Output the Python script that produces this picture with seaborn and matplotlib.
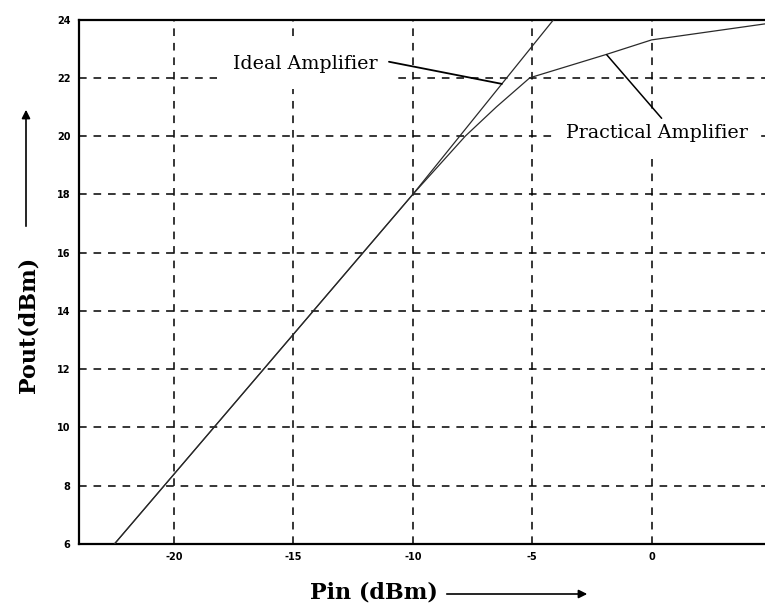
import matplotlib
matplotlib.use("Agg")
import matplotlib.pyplot as plt
import seaborn as sns
import pandas as pd

# ---- data ----
ideal_pin = [-22.5, -10.0, -4.1]
ideal_pout = [6.0, 18.0, 24.0]
practical_pin = [-22.5, -10.0, -8.9, -7.8, -6.5, -5.1, -1.9, 0.0, 4.75]
practical_pout = [6.0, 18.0, 19.0, 20.0, 21.0, 22.0, 22.8, 23.3, 23.85]
x_ticks = [-20, -15, -10, -5, 0]
y_ticks = [6, 8, 10, 12, 14, 16, 18, 20, 22, 24]
x_label = "Pin (dBm)"
y_label = "Pout(dBm)"
ideal_text = "Ideal Amplifier"
ideal_text_xy = (-14.49, 22.47)
ideal_ptr = [(-11.0, 22.55), (-6.27, 21.79)]
practical_text = "Practical Amplifier"
practical_text_xy = (0.22, 20.12)
practical_ptr = [(-1.88, 22.79), (0.42, 20.61)]

sns.set_style("white")
plt.rcParams["font.family"] = ["DejaVu Sans"]
plt.rcParams["text.color"] = "black"
plt.rcParams["xtick.color"] = "black"
plt.rcParams["ytick.color"] = "black"

W, H = 765, 606
fig = plt.figure(figsize=(W / 100, H / 100), dpi=100)
ax = fig.add_axes([78.6 / W, (H - 544) / H, (W - 78.6) / W, (544 - 19.5) / H])

df_ideal = pd.DataFrame({"Pin": ideal_pin, "Pout": ideal_pout})
df_prac = pd.DataFrame({"Pin": practical_pin, "Pout": practical_pout})
sns.lineplot(data=df_ideal, x="Pin", y="Pout", ax=ax, color="#2a2a2a", lw=0.9,
             sort=False, estimator=None, zorder=3)
sns.lineplot(data=df_prac, x="Pin", y="Pout", ax=ax, color="#2a2a2a", lw=0.9,
             sort=False, estimator=None, zorder=3)

ax.set_xlim(-24, 4.75)
ax.set_ylim(6, 24)
ax.set_xticks(x_ticks)
ax.set_yticks(y_ticks)
ax.set_xticklabels([str(t) for t in x_ticks])
ax.set_yticklabels([str(t) for t in y_ticks])
ax.tick_params(axis="both", length=0, labelsize=7, pad=6, labelcolor="black")
for lab in ax.get_xticklabels() + ax.get_yticklabels():
    lab.set_fontweight("bold")
ax.grid(True, color="black", lw=1.1, ls=(0, (5.0, 4.5)))
ax.set_axisbelow(True)
for s in ["left", "bottom", "top"]:
    ax.spines[s].set_color("black")
    ax.spines[s].set_linewidth(1.6)
ax.spines["right"].set_visible(False)
ax.set_xlabel("")
ax.set_ylabel("")

serif = ["DejaVu Serif"]
ax.text(*ideal_text_xy, ideal_text, family=serif, fontsize=13.7, ha="center",
        va="center", zorder=4, color="black",
        bbox=dict(boxstyle="square,pad=0.85", fc="white", ec="none"))
ax.text(*practical_text_xy, practical_text, family=serif, fontsize=13.7, ha="center",
        va="center", zorder=4, color="black",
        bbox=dict(boxstyle="square,pad=0.65", fc="white", ec="none"))
ax.annotate("", xy=ideal_ptr[1], xytext=ideal_ptr[0],
            arrowprops=dict(arrowstyle="-", color="black", lw=1.3, shrinkA=0, shrinkB=0),
            zorder=5)
ax.annotate("", xy=practical_ptr[1], xytext=practical_ptr[0],
            arrowprops=dict(arrowstyle="-", color="black", lw=1.1, shrinkA=0, shrinkB=0),
            zorder=5)

# axis titles with arrows (figure pixel coordinates)
def fx(px):
    return px / W

def fy(py):
    return 1 - py / H

fig.text(fx(374), fy(593), x_label, family=serif, fontsize=16, fontweight="bold",
         ha="center", va="center", color="black")
fig.text(fx(29), fy(325), y_label, family=serif, fontsize=16, fontweight="bold",
         ha="center", va="center", rotation=90, color="black")
fig.add_artist(matplotlib.patches.FancyArrowPatch(
    (fx(444), fy(594)), (fx(590), fy(594)), transform=fig.transFigure,
    arrowstyle="-|>,head_length=5,head_width=2.5", color="black", lw=1.2))
fig.add_artist(matplotlib.patches.FancyArrowPatch(
    (fx(26), fy(229)), (fx(26), fy(107)), transform=fig.transFigure,
    arrowstyle="-|>,head_length=5,head_width=2.5", color="black", lw=1.2))

fig.savefig("out.png", dpi=100)
